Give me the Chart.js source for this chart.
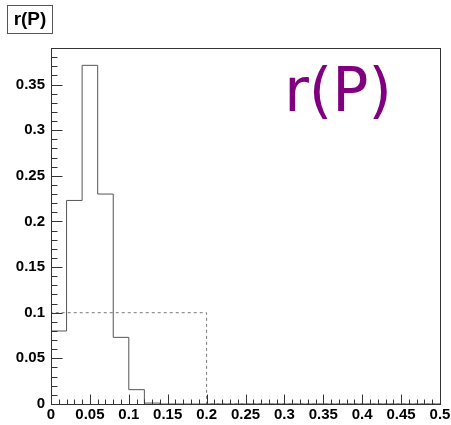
<!DOCTYPE html>
<html>
<head>
<meta charset="utf-8">
<script src="https://cdn.jsdelivr.net/npm/chart.js@4.4.0/dist/chart.umd.min.js"></script>
<style>
  html, body { margin: 0; padding: 0; background: #fff; }
  canvas { display: block; }
</style>
</head>
<body>
<canvas id="histo" width="451" height="425"></canvas>
<script>
// histogram binning (25 bins of 0.02 over 0 .. 0.5)
const binWidth = 0.02;
const xRange = [0, 0.5];
const yRange = [0, 0.39];
const majorStep = 0.05;
const minorStep = 0.01;

// solid histogram r(P)
const rValues = [0.080, 0.223, 0.371, 0.230, 0.073, 0.0157, 0.001, 0, 0, 0,
                 0, 0, 0, 0, 0, 0, 0, 0, 0, 0,
                 0, 0, 0, 0, 0];
// dotted flat reference
const flatValues = [0.1, 0.1, 0.1, 0.1, 0.1, 0.1, 0.1, 0.1, 0.1, 0.1,
                    0, 0, 0, 0, 0, 0, 0, 0, 0, 0,
                    0, 0, 0, 0, 0];

const titleText = 'r(P)';
const labelFont = '"Liberation Sans", Arial, sans-serif';

// turn bin contents into step points
function toSteps(values) {
  const pts = [{ x: xRange[0], y: 0 }];
  values.forEach((v, i) => pts.push({ x: xRange[0] + i * binWidth, y: v }));
  pts.push({ x: xRange[1], y: 0 });
  return pts;
}

function fmt(v) {
  return String(+v.toFixed(2));
}

// ROOT style frame with inward ticks, plus the title boxes
const rootFrame = {
  id: 'rootFrame',
  afterDatasetsDraw(chart) {
    const { ctx, chartArea: a, scales: { x, y } } = chart;
    const L = Math.round(a.left) + 0.5, R = Math.round(a.right) + 0.5;
    const T = Math.round(a.top) + 0.5, B = Math.round(a.bottom) + 0.5;
    ctx.save();
    ctx.strokeStyle = '#333';
    ctx.lineWidth = 1;
    ctx.strokeRect(L, T, R - L, B - T);

    ctx.beginPath();
    for (let v = yRange[0]; v <= yRange[1] + 1e-9; v += minorStep) {
      const val = +v.toFixed(2);
      const major = Math.abs(val / majorStep - Math.round(val / majorStep)) < 1e-6;
      const py = Math.round(y.getPixelForValue(val)) + 0.5;
      ctx.moveTo(L, py);
      ctx.lineTo(L + (major ? 11 : 6), py);
    }
    for (let v = xRange[0]; v <= xRange[1] + 1e-9; v += minorStep) {
      const val = +v.toFixed(2);
      const major = Math.abs(val / majorStep - Math.round(val / majorStep)) < 1e-6;
      const px = Math.round(x.getPixelForValue(val)) + 0.5;
      ctx.moveTo(px, B);
      ctx.lineTo(px, B - (major ? 10 : 5));
    }
    ctx.stroke();
    ctx.restore();
  },
  afterDraw(chart) {
    const { ctx } = chart;
    ctx.save();
    // small title box top-left
    ctx.fillStyle = '#fff';
    ctx.fillRect(7, 5, 45, 28);
    ctx.strokeStyle = '#555';
    ctx.lineWidth = 1;
    ctx.strokeRect(7.5, 5.5, 45, 28);
    ctx.fillStyle = '#000';
    ctx.font = 'bold 19px ' + labelFont;
    ctx.textAlign = 'center';
    ctx.textBaseline = 'middle';
    ctx.fillText(titleText, 30, 20);
    // big purple label
    ctx.fillStyle = '#800080';
    ctx.font = '60px "DejaVu Sans", sans-serif';
    ctx.textBaseline = 'alphabetic';
    ctx.fillText(titleText, 338, 111);
    ctx.restore();
  }
};

new Chart(document.getElementById('histo'), {
  type: 'line',
  data: {
    datasets: [
      {
        data: toSteps(rValues),
        stepped: 'before',
        borderColor: '#555',
        borderWidth: 1,
        pointRadius: 0,
        fill: false
      },
      {
        data: toSteps(flatValues),
        stepped: 'before',
        borderColor: '#777',
        borderWidth: 1,
        borderDash: [3, 3],
        pointRadius: 0,
        fill: false
      }
    ]
  },
  options: {
    responsive: false,
    animation: false,
    layout: { padding: { top: 48, right: 11, left: 0, bottom: 0 } },
    plugins: { legend: { display: false }, tooltip: { enabled: false } },
    scales: {
      x: {
        type: 'linear',
        min: xRange[0],
        max: xRange[1],
        grid: { display: false, drawTicks: false },
        border: { display: false },
        ticks: {
          stepSize: majorStep,
          padding: 2,
          maxRotation: 0,
          autoSkip: false,
          color: '#000',
          font: { family: labelFont, size: 15, weight: 'bold' },
          callback: v => fmt(v)
        },
        afterFit(scale) {
          scale.height = 21;
          scale.paddingLeft = 0;
          scale.paddingRight = 0;
        }
      },
      y: {
        min: yRange[0],
        max: yRange[1],
        grid: { display: false, drawTicks: false },
        border: { display: false },
        ticks: {
          stepSize: majorStep,
          includeBounds: false,
          padding: 6,
          color: '#000',
          font: { family: labelFont, size: 15, weight: 'bold' },
          callback: v => fmt(v)
        },
        afterFit(scale) {
          scale.width = 51;
          scale.paddingTop = 0;
          scale.paddingBottom = 0;
        }
      }
    }
  },
  plugins: [rootFrame]
});
</script>
</body>
</html>
